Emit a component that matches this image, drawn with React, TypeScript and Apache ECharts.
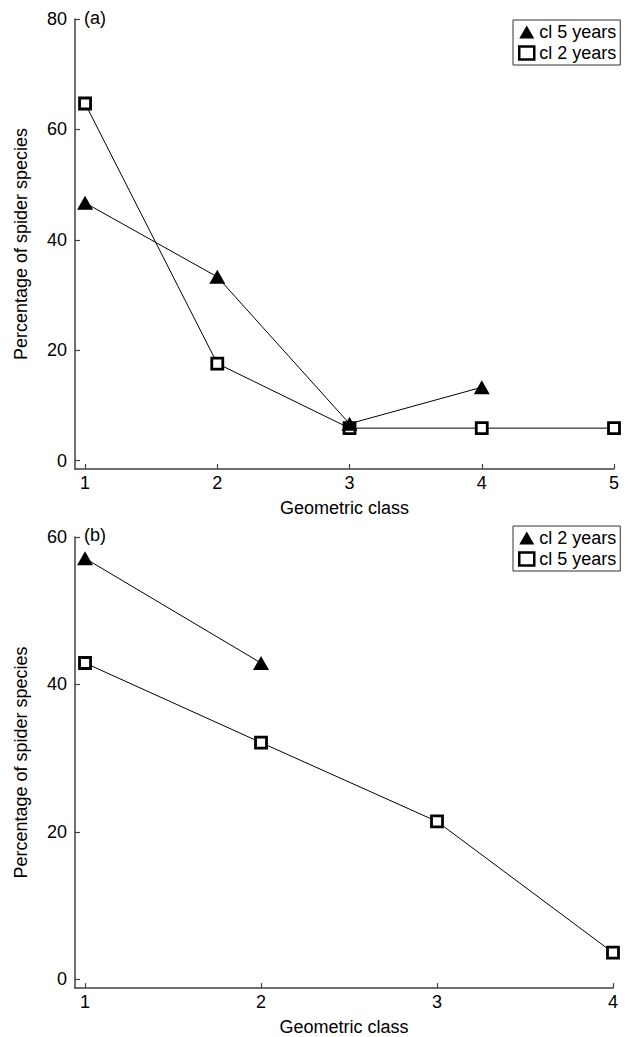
import React, { useEffect, useRef } from "react";
import * as echarts from "echarts";

const topClasses = [1, 2, 3, 4, 5];
const topFiveYears = [46.7, 33.3, 6.7, 13.3];
const topTwoYears = [64.7, 17.6, 5.9, 5.9, 5.9];
const topYTicks = [0, 20, 40, 60, 80];

const bottomClasses = [1, 2, 3, 4];
const bottomTwoYears = [57.1, 42.9];
const bottomFiveYears = [42.9, 32.1, 21.4, 3.6];
const bottomYTicks = [0, 20, 40, 60];

const FONT = "Liberation Sans, Arial, Helvetica, sans-serif";
const FS = 18;
const AXIS_COLOR = "#404040";

const pair = (xs: number[], ys: number[]) => ys.map((y, i) => [xs[i], y]);

const triangleSeries = (name: string, xi: number, data: number[][]) => ({
  type: "line",
  name,
  xAxisIndex: xi,
  yAxisIndex: xi,
  data,
  symbol: "triangle",
  symbolSize: [16, 14],
  z: 4,
  lineStyle: { color: "#000", width: 1 },
  itemStyle: { color: "#000", borderWidth: 0 },
});

const squareSeries = (name: string, xi: number, data: number[][]) => ({
  type: "line",
  name,
  xAxisIndex: xi,
  yAxisIndex: xi,
  data,
  symbol: "rect",
  symbolSize: 11,
  z: 3,
  lineStyle: { color: "#000", width: 1 },
  itemStyle: { color: "#fff", borderColor: "#000", borderWidth: 2.8 },
});

const legendItem = (name: string, tri: boolean) =>
  tri
    ? { name, icon: "triangle", itemStyle: { color: "#000", borderWidth: 0 } }
    : {
        name,
        icon: "rect",
        itemStyle: { color: "#fff", borderColor: "#000", borderWidth: 2.5 },
      };

const legendBase = {
  orient: "vertical",
  left: 513,
  borderColor: "#333",
  borderWidth: 1,
  padding: [3, 4, 3, 5],
  itemGap: 3,
  itemWidth: 15,
  itemHeight: 13,
  textStyle: { fontSize: FS, color: "#000", fontFamily: FONT },
  selectedMode: false,
};

const xAxisBase = (gridIndex: number, min: number, max: number, vals: number[]) => ({
  type: "value",
  gridIndex,
  min,
  max,
  name: "Geometric class",
  nameLocation: "middle",
  nameGap: 30,
  nameTextStyle: { fontSize: FS, color: "#000", fontFamily: FONT },
  axisLine: { show: true, onZero: false, lineStyle: { color: AXIS_COLOR, width: 1.5 } },
  axisTick: { show: true, inside: true, length: 5, customValues: vals, lineStyle: { color: AXIS_COLOR, width: 1.2 } },
  axisLabel: { customValues: vals, margin: 5, fontSize: FS, color: "#000", fontFamily: FONT },
  splitLine: { show: false },
});

const yAxisBase = (gridIndex: number, min: number, max: number, vals: number[]) => ({
  type: "value",
  gridIndex,
  min,
  max,
  name: "Percentage of spider species",
  nameLocation: "middle",
  nameGap: 45,
  nameTextStyle: { fontSize: FS, color: "#000", fontFamily: FONT },
  axisLine: { show: true, onZero: false, lineStyle: { color: AXIS_COLOR, width: 1.5 } },
  axisTick: { show: true, inside: true, length: 5, customValues: vals, lineStyle: { color: AXIS_COLOR, width: 1.2 } },
  axisLabel: { customValues: vals, margin: 8, fontSize: FS, color: "#000", fontFamily: FONT },
  splitLine: { show: false },
});

export default function App() {
  const ref = useRef<HTMLDivElement>(null);
  useEffect(() => {
    document.body.style.margin = "0";
    if (!ref.current) return;
    const chart = echarts.init(ref.current, null, { renderer: "svg" });
    chart.setOption({
      animation: false,
      backgroundColor: "#fff",
      textStyle: { fontFamily: FONT },
      grid: [
        { left: 75, top: 19, width: 539, height: 450 },
        { left: 75, top: 537, width: 538, height: 453 },
      ],
      xAxis: [
        xAxisBase(0, 0.924, 5, topClasses),
        xAxisBase(1, 0.943, 4, bottomClasses),
      ],
      yAxis: [
        yAxisBase(0, -1.5, 80, topYTicks),
        yAxisBase(1, -1.2, 60, bottomYTicks),
      ],
      legend: [
        {
          ...legendBase,
          top: 20,
          data: [legendItem("cl 5 years", true), legendItem("cl 2 years", false)],
        },
        {
          ...legendBase,
          top: 526,
          data: [legendItem("cl 2 years", true), legendItem("cl 5 years", false)],
        },
      ],
      graphic: [
        { type: "text", left: 84, top: 9, style: { text: "(a)", fontSize: FS, fill: "#000", fontFamily: FONT } },
        { type: "text", left: 84, top: 526, style: { text: "(b)", fontSize: FS, fill: "#000", fontFamily: FONT } },
      ],
      series: [
        squareSeries("cl 2 years", 0, pair(topClasses, topTwoYears)),
        triangleSeries("cl 5 years", 0, pair(topClasses, topFiveYears)),
        squareSeries("cl 5 years", 1, pair(bottomClasses, bottomFiveYears)),
        triangleSeries("cl 2 years", 1, pair(bottomClasses, bottomTwoYears)),
      ],
    });
    return () => chart.dispose();
  }, []);
  return <div ref={ref} style={{ width: 630, height: 1037 }} />;
}
